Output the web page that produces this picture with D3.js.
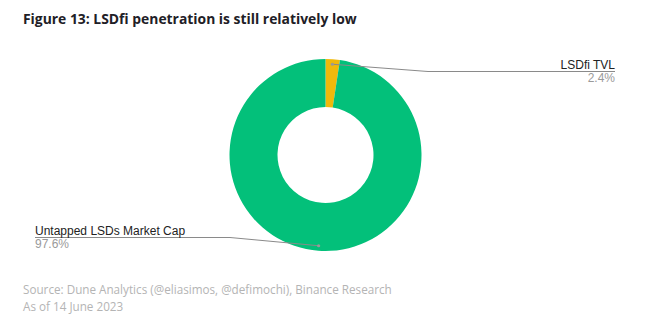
<!DOCTYPE html>
<html><head><meta charset="utf-8">
<script src="https://cdn.jsdelivr.net/npm/d3@7"></script>
<style>body{margin:0;background:#fff}svg{display:block}</style>
</head><body>
<svg id="c" width="654" height="333"></svg>
<script>
const categories = ["LSDfi TVL", "Untapped LSDs Market Cap"];
const values = [2.4, 97.6];
const valueLabels = ["2.4%", "97.6%"];
const colors = ["#F0B90B", "#03C07A"];
const titleText = "Figure 13: LSDfi penetration is still relatively low";
const sourceLines = ["Source: Dune Analytics (@eliasimos, @defimochi), Binance Research", "As of 14 June 2023"];

const svg = d3.select("#c");
const cx = 325.5, cy = 155, R = 96, r = 48;

function fitText(sel, w) {
  const l = sel.node().getComputedTextLength();
  const fs = parseFloat(sel.attr("font-size"));
  sel.attr("font-size", fs * w / l);
}

const title = svg.append("text").attr("x", 23).attr("y", 24)
  .attr("font-family", "'Open Sans', sans-serif").attr("font-weight", 700)
  .attr("font-size", 16).attr("fill", "#1e2026").text(titleText);
fitText(title, 334);

const pie = d3.pie().sort(null).value(d => d);
const arcs = pie(values);
const arc = d3.arc().innerRadius(r).outerRadius(R);
const g = svg.append("g").attr("transform", `translate(${cx},${cy})`);
g.selectAll("path").data(arcs).enter().append("path")
  .attr("d", arc).attr("fill", (d, i) => colors[i]);

// leader lines
const dotArc = d3.arc().innerRadius(91).outerRadius(91);
const lineG = svg.append("g");
arcs.forEach((a, i) => {
  const [px, py] = dotArc.centroid(a);
  const dx = cx + px, dy = cy + py;
  let pts, tx, anchor, ly;
  if (i === 0) {
    ly = 71.5;
    pts = [[dx, dy], [428, ly], [615, ly]];
    tx = 615; anchor = "end";
  } else {
    ly = 237.5;
    pts = [[dx, dy], [230, ly], [35, ly]];
    tx = 35; anchor = "start";
  }
  lineG.append("path").attr("d", d3.line()(pts)).attr("fill", "none")
    .attr("stroke", "#8a8a8a").attr("stroke-width", 1);
  lineG.append("circle").attr("cx", dx).attr("cy", dy).attr("r", 1.6).attr("fill", "#999");
  lineG.append("text").attr("x", tx).attr("y", ly - 3).attr("text-anchor", anchor)
    .attr("font-family", "Arial, 'Liberation Sans', sans-serif").attr("font-size", 12)
    .attr("fill", "#222").text(categories[i]);
  lineG.append("text").attr("x", tx).attr("y", ly + 10.5).attr("text-anchor", anchor)
    .attr("font-family", "Arial, 'Liberation Sans', sans-serif").attr("font-size", 12)
    .attr("fill", "#9a9a9a").text(valueLabels[i]);
});

const s1 = svg.append("text").attr("x", 23).attr("y", 294)
  .attr("font-family", "'Open Sans', sans-serif").attr("font-size", 13)
  .attr("fill", "#b4b4b4").text(sourceLines[0]);
fitText(s1, 369);
const fs = s1.attr("font-size");
svg.append("text").attr("x", 23).attr("y", 311)
  .attr("font-family", "'Open Sans', sans-serif").attr("font-size", fs)
  .attr("fill", "#b4b4b4").text(sourceLines[1]);
</script>
</body></html>
